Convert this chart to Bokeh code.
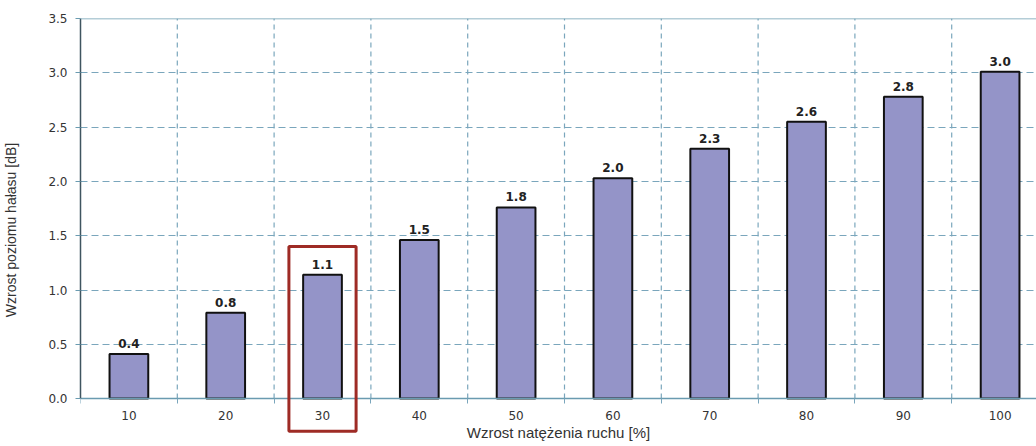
from bokeh.plotting import figure
from bokeh.models import (FixedTicker, Span, BoxAnnotation, Grid, ColumnDataSource, Range1d,
                          PrintfTickFormatter)
from bokeh.core.properties import value
from bokeh.embed import file_html
from bokeh.resources import INLINE

categories = ["10", "20", "30", "40", "50", "60", "70", "80", "90", "100"]
values = [0.41, 0.79, 1.14, 1.46, 1.76, 2.03, 2.30, 2.55, 2.78, 3.01]
value_labels = ["0.4", "0.8", "1.1", "1.5", "1.8", "2.0", "2.3", "2.6", "2.8", "3.0"]
y_ticks = [0.0, 0.5, 1.0, 1.5, 2.0, 2.5, 3.0, 3.5]
highlight = "30"
x_title = "Wzrost natężenia ruchu [%]"
y_title = "Wzrost poziomu hałasu [dB]"

y_min, y_max = 0.0, 3.5
centers = [i + 0.5 for i in range(len(categories))]
bounds = [float(i) for i in range(len(categories) + 1)]

src = ColumnDataSource(dict(x=centers, top=values, lab=value_labels))

p = figure(width=1036, height=446, output_backend="svg", toolbar_location=None,
           x_range=Range1d(0, 9.876), y_range=Range1d(-0.395, y_max),
           min_border_left=79, min_border_right=0, min_border_top=18, min_border_bottom=5)
p.outline_line_color = None
p.background_fill_color = "white"
p.border_fill_color = "white"

grid_color = "#7aa6bc"
p.xgrid.grid_line_color = None
p.ygrid.grid_line_color = None
hg = Grid(dimension=1, ticker=FixedTicker(ticks=[t for t in y_ticks if y_min < t < y_max]),
          grid_line_color=grid_color, grid_line_dash="7 4", grid_line_width=1.2)
p.add_layout(hg)
inner = bounds[1:-1]
p.segment(x0=inner, y0=[y_min] * len(inner), x1=inner, y1=[y_max] * len(inner),
          line_color=grid_color, line_dash="5 4", line_width=1.2)

p.vbar(x="x", top="top", width=0.4, bottom=0, source=src,
       fill_color="#9494c8", line_color="#111111", line_width=2)
p.text(x="x", y="top", text="lab", source=src, text_align="center", text_baseline="bottom",
       y_offset=-6, text_font=value("DejaVu Sans"), text_font_style="bold",
       text_font_size="12px", text_color="#222222")

# x axis
xa = p.xaxis[0]
xa.fixed_location = 0
xa.ticker = FixedTicker(ticks=centers, minor_ticks=bounds)
xa.major_label_overrides = {c: lab for c, lab in zip(centers, categories)}
xa.major_tick_out = 0
xa.major_tick_in = 0
xa.minor_tick_out = 5
xa.minor_tick_in = 0
xa.minor_tick_line_color = grid_color
xa.axis_line_color = "#6a9bb0"
xa.axis_line_width = 1.5
xa.major_label_text_font = "DejaVu Sans"
xa.major_label_text_font_size = "12px"
xa.major_label_text_color = "#333333"
xa.major_label_standoff = 7
xa.axis_label = x_title
xa.axis_label_text_font = "Liberation Sans"
xa.axis_label_text_font_size = "15px"
xa.axis_label_text_font_style = "normal"
xa.axis_label_text_color = "#333333"
xa.axis_label_standoff = 1

# y axis
ya = p.yaxis[0]
ya.ticker = FixedTicker(ticks=y_ticks)
ya.bounds = (y_min, y_max)
ya.formatter = PrintfTickFormatter(format="%.1f")
ya.minor_tick_line_color = None
ya.major_tick_out = 5
ya.major_tick_in = 0
ya.major_tick_line_color = "#6a9bb0"
ya.axis_line_color = "#3f5560"
ya.axis_line_width = 1.5
ya.major_label_text_font = "DejaVu Sans"
ya.major_label_text_font_size = "12px"
ya.major_label_text_color = "#333333"
ya.major_label_standoff = 8
ya.axis_label = y_title
ya.axis_label_text_font = "Liberation Sans"
ya.axis_label_text_font_size = "14px"
ya.axis_label_text_font_style = "normal"
ya.axis_label_text_color = "#333333"
ya.axis_label_standoff = 26

top_line = Span(location=y_max, dimension="width", line_color="#6a9bb0", line_width=1.5)
p.add_layout(top_line)

hi = categories.index(highlight) + 0.5
box = BoxAnnotation(left=hi - 0.347, right=hi + 0.347, bottom=-0.30, top=1.40,
                    fill_alpha=0, line_color="#9e2b25", line_alpha=1.0, line_width=3)
p.add_layout(box)

open("out.html", "w").write(file_html(p, INLINE))
